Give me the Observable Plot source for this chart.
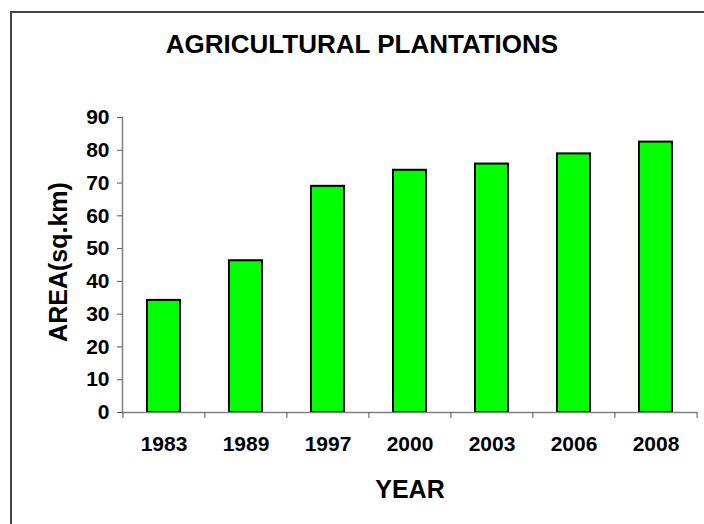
<!DOCTYPE html>
<html>
<head>
<meta charset="utf-8">
<script src="https://cdn.jsdelivr.net/npm/d3@7"></script>
<script src="https://cdn.jsdelivr.net/npm/@observablehq/plot@0.6"></script>
<style>
  body { margin: 0; background: #fff; }
  #chart { position: relative; width: 704px; height: 524px; overflow: hidden;
           font-family: "Liberation Sans", Arial, sans-serif; }
  #border { position: absolute; left: 10px; top: 11px; width: 900px; height: 900px;
            border-left: 2px solid #444; border-top: 2px solid #444; }
  #title { position: absolute; left: 0; top: 31px; width: 724px; text-align: center;
           font-size: 26px; line-height: 26px; font-weight: bold; color: #000; }
  #chart svg { position: absolute; left: 0; top: 0; }
</style>
</head>
<body>
<div id="chart">
  <div id="border"></div>
  <div id="title"></div>
</div>
<script>
// Plantation area by survey year
const chartTitle = "AGRICULTURAL PLANTATIONS";
const xLabel = "YEAR";
const yLabel = "AREA(sq.km)";
const years = ["1983", "1989", "1997", "2000", "2003", "2006", "2008"];
const area = [34.2, 46.3, 69.0, 73.9, 75.8, 78.9, 82.5];
const yTicks = [0, 10, 20, 30, 40, 50, 60, 70, 80, 90];

const rows = years.map((year, i) => ({year, area: area[i]}));

const W = 704, H = 524;
const mL = 122, mR = 7, mT = 117, mB = 112;
const step = (W - mL - mR) / years.length;

document.getElementById("title").textContent = chartTitle;

const axisColor = "#808080";
const font = {fontSize: 21, fontWeight: "bold", fill: "#000"};

const chart = Plot.plot({
  width: W,
  height: H,
  marginLeft: mL,
  marginRight: mR,
  marginTop: mT,
  marginBottom: mB,
  style: {fontFamily: "'Liberation Sans', Arial, sans-serif", background: "transparent", overflow: "visible"},
  x: {type: "band", domain: years, paddingInner: 0.6, paddingOuter: 0.3},
  y: {domain: [0, 90]},
  marks: [
    Plot.barY(rows, {x: "year", y: "area", fill: "#00ff00", stroke: "#000", strokeWidth: 2}),
    Plot.ruleY([0], {stroke: axisColor, strokeWidth: 1.5}),
    Plot.frame({anchor: "left", stroke: axisColor, strokeWidth: 1.5}),
    Plot.axisY({ticks: yTicks, tickSize: 5, tickPadding: 8, label: null, stroke: "#555", ...font}),
    // year labels centred under each bar
    Plot.axisX({tickSize: 0, tickPadding: 24, label: null, ...font}),
    // tick marks on the category boundaries
    Plot.axisX({tickSize: 6, tickFormat: () => "", label: null, stroke: "#555", dx: -step / 2}),
    Plot.axisX({ticks: years.slice(-1), tickSize: 6, tickFormat: () => "", label: null, stroke: "#555", dx: step / 2}),
    Plot.text([yLabel], {text: d => d, frameAnchor: "left", textAnchor: "middle", lineAnchor: "middle",
                         rotate: -90, dx: -64, dy: -3, fontSize: 25, fontWeight: "bold", fill: "#000"}),
    Plot.text([xLabel], {text: d => d, frameAnchor: "bottom", dy: 85, lineAnchor: "bottom",
                         fontSize: 25, fontWeight: "bold", fill: "#000"})
  ]
});

document.getElementById("chart").appendChild(chart);
</script>
</body>
</html>
